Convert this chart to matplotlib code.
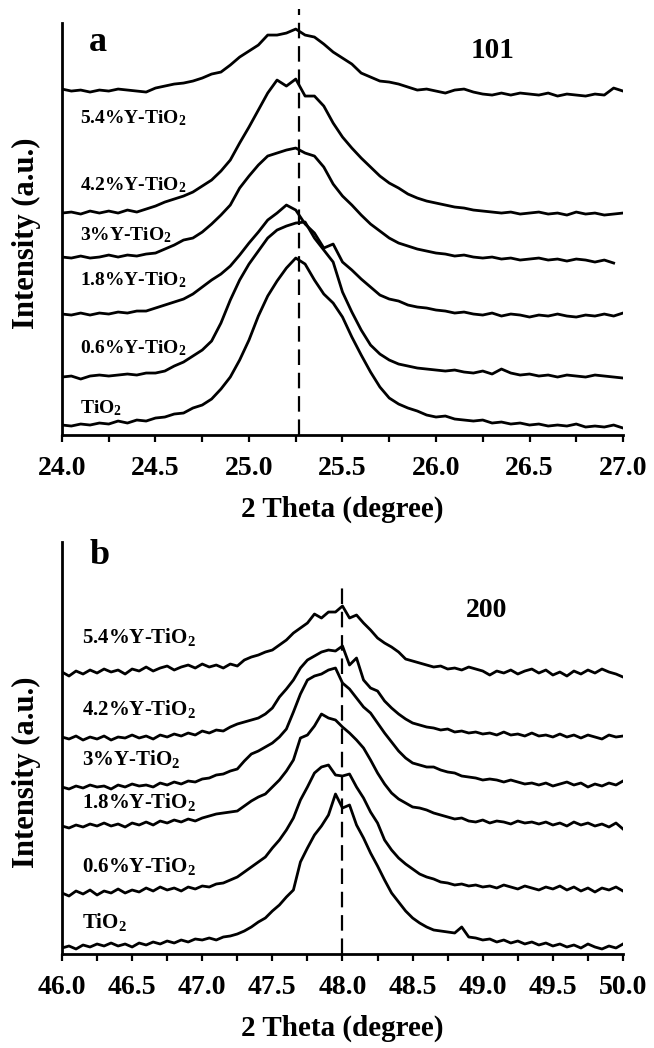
import numpy as np
import matplotlib
matplotlib.use("Agg")
import matplotlib.pyplot as plt
from matplotlib.ticker import MultipleLocator, FormatStrFormatter

plt.rcParams['font.family'] = ['Liberation Serif', 'DejaVu Serif']
plt.rcParams['font.weight'] = 'bold'
plt.rcParams['mathtext.fontset'] = 'custom'
plt.rcParams['mathtext.rm'] = 'Liberation Serif:bold'
plt.rcParams['mathtext.it'] = 'Liberation Serif:bold'
plt.rcParams['mathtext.bf'] = 'Liberation Serif:bold'

# 2 theta grids (step 0.05 deg)
theta_a = np.linspace(24.0, 27.0, 61)
theta_b = np.linspace(46.0, 50.0, 81)

samples = ['5.4%Y-TiO$_\\mathrm{2}$', '4.2%Y-TiO$_\\mathrm{2}$', '3%Y-TiO$_\\mathrm{2}$',
           '1.8%Y-TiO$_\\mathrm{2}$', '0.6%Y-TiO$_\\mathrm{2}$', 'TiO$_\\mathrm{2}$']

# (101) peak, stacked intensities (a.u.)
a_54 = [346, 344, 345, 343, 345, 344, 346, 345, 344, 343,
        347, 349, 351, 352, 354, 357, 361, 363, 370, 378,
        384, 390, 400, 400, 402, 406, 400, 398, 391, 383,
        377, 371, 362, 358, 354, 353, 351, 348, 345, 346,
        344, 342, 345, 346, 343, 341, 340, 342, 340, 342,
        341, 340, 342, 339, 341, 340, 339, 341, 340, 347,
        344]
a_42 = [222, 223, 221, 224, 222, 224, 222, 225, 223, 226,
        229, 233, 236, 239, 243, 249, 255, 264, 275, 292,
        308, 325, 342, 355, 349, 356, 339, 339, 329, 312,
        298, 287, 277, 268, 259, 252, 247, 241, 237, 234,
        232, 230, 228, 227, 225, 224, 223, 222, 223, 221,
        222, 223, 221, 222, 220, 223, 221, 222, 220, 221,
        222]
a_30 = [178, 177, 179, 177, 178, 180, 178, 180, 179, 181,
        182, 186, 190, 195, 197, 203, 211, 220, 230, 247,
        259, 270, 279, 282, 285, 287, 282, 279, 268, 251,
        239, 230, 220, 211, 204, 197, 192, 189, 186, 184,
        182, 181, 179, 180, 178, 177, 178, 176, 177, 175,
        176, 177, 175, 176, 174, 176, 175, 173, 175, 172]
a_18 = [121, 120, 122, 120, 122, 121, 123, 122, 124, 124,
        127, 130, 133, 136, 141, 148, 155, 161, 169, 180,
        192, 203, 215, 222, 230, 225, 211, 202, 187, 191,
        173, 165, 156, 148, 140, 136, 134, 130, 128, 127,
        125, 124, 122, 123, 121, 120, 122, 119, 121, 120,
        118, 120, 119, 121, 119, 118, 120, 119, 121, 119,
        122]
a_06 = [58, 59, 56, 59, 60, 59, 60, 61, 60, 62,
        62, 64, 69, 73, 79, 85, 94, 112, 135, 155,
        171, 184, 197, 205, 209, 212, 213, 197, 185, 173,
        143, 123, 105, 90, 81, 75, 71, 69, 67, 66,
        65, 64, 65, 63, 62, 64, 61, 66, 62, 60,
        61, 59, 60, 58, 60, 59, 58, 60, 59, 58,
        57]
a_ti = [10, 9, 11, 10, 12, 11, 14, 12, 15, 14,
        17, 18, 21, 22, 27, 30, 36, 46, 58, 75,
        95, 119, 139, 154, 167, 177, 171, 155, 141, 132,
        118, 98, 80, 63, 48, 37, 31, 27, 24, 20,
        18, 19, 16, 15, 14, 15, 12, 13, 11, 12,
        10, 11, 9, 10, 9, 11, 8, 9, 8, 10,
        7]

# (200) peak, stacked intensities (a.u.)
b_54 = [282, 278, 283, 280, 284, 281, 285, 282, 284, 280,
        285, 283, 287, 283, 286, 288, 284, 287, 289, 286,
        290, 287, 289, 286, 290, 288, 294, 297, 299, 302,
        304, 309, 314, 321, 326, 331, 340, 336, 342, 342,
        348, 336, 339, 331, 324, 316, 311, 307, 302, 295,
        293, 291, 289, 287, 288, 285, 286, 284, 287, 285,
        283, 279, 283, 281, 284, 280, 283, 285, 281, 284,
        279, 282, 278, 283, 280, 284, 281, 285, 282, 280,
        277]
b_42 = [217, 215, 218, 214, 217, 215, 218, 214, 217, 216,
        219, 216, 218, 215, 219, 217, 220, 218, 221, 219,
        223, 221, 224, 223, 227, 230, 232, 234, 236, 240,
        246, 257, 265, 274, 286, 294, 298, 302, 304, 303,
        308, 289, 296, 274, 266, 263, 253, 246, 240, 235,
        231, 229, 227, 226, 224, 225, 222, 223, 221, 222,
        220, 221, 219, 222, 219, 220, 218, 221, 218, 219,
        217, 220, 217, 219, 216, 219, 217, 215, 219, 217,
        218]
b_30 = [167, 165, 168, 166, 169, 167, 168, 165, 169, 167,
        170, 168, 169, 167, 171, 169, 172, 170, 173, 172,
        175, 176, 179, 180, 183, 185, 193, 200, 203, 207,
        211, 217, 225, 242, 260, 274, 278, 280, 284, 286,
        271, 265, 256, 247, 241, 231, 221, 212, 203, 196,
        191, 189, 187, 187, 184, 182, 181, 178, 177, 176,
        174, 175, 174, 172, 174, 172, 170, 171, 169, 171,
        168, 170, 172, 169, 171, 167, 170, 168, 171, 169,
        173]
b_18 = [128, 126, 129, 127, 130, 128, 131, 128, 130, 127,
        131, 129, 132, 129, 133, 131, 134, 132, 135, 133,
        136, 138, 140, 141, 142, 143, 148, 153, 157, 160,
        167, 174, 183, 194, 216, 219, 228, 240, 236, 234,
        227, 221, 214, 206, 194, 181, 170, 161, 155, 151,
        147, 146, 144, 141, 139, 137, 135, 136, 133, 132,
        134, 131, 133, 132, 130, 133, 131, 132, 130, 132,
        129, 131, 128, 132, 129, 131, 128, 130, 127, 131,
        125]
b_06 = [61, 58, 63, 60, 64, 59, 63, 61, 65, 61,
        64, 62, 66, 63, 67, 64, 66, 63, 67, 65,
        68, 67, 70, 71, 74, 77, 82, 87, 92, 97,
        106, 114, 124, 136, 154, 167, 181, 187, 189, 179,
        178, 180, 167, 156, 142, 131, 114, 104, 96, 90,
        85, 80, 77, 75, 72, 71, 69, 70, 68, 69,
        67, 68, 66, 69, 67, 65, 68, 66, 64, 67,
        65, 68, 64, 67, 63, 66, 62, 66, 64, 67,
        63]
b_ti = [6, 8, 5, 9, 7, 10, 8, 11, 8, 10,
        7, 11, 9, 12, 10, 13, 11, 14, 12, 15,
        14, 16, 14, 17, 18, 20, 23, 27, 32, 36,
        43, 49, 57, 64, 92, 106, 119, 128, 139, 160,
        146, 149, 129, 116, 101, 88, 74, 61, 52, 43,
        36, 31, 27, 24, 23, 22, 21, 27, 17, 16,
        14, 15, 12, 14, 11, 13, 10, 12, 9, 11,
        8, 10, 7, 9, 6, 10, 7, 5, 8, 6,
        10]

curves_a = [a_54, a_42, a_30, a_18, a_06, a_ti]
curves_b = [b_54, b_42, b_30, b_18, b_06, b_ti]
label_y_a = [312, 245, 195, 150, 82, 22]
label_y_b = [311, 239, 189, 146, 82, 26]

fig = plt.figure(figsize=(6.54, 10.48), dpi=100)
ax1 = fig.add_axes([0.0948, 0.5849, 0.8578, 0.3931])
ax2 = fig.add_axes([0.0948, 0.0897, 0.8578, 0.3931])


def style_axis(ax, lo, hi, ylab_y):
    ax.set_xlim(lo, hi)
    ax.set_ylim(0, 412)
    for s in ['top', 'right']:
        ax.spines[s].set_visible(False)
    for s in ['left', 'bottom']:
        ax.spines[s].set_linewidth(2.0)
    ax.set_yticks([])
    ax.xaxis.set_major_locator(MultipleLocator(0.5))
    ax.xaxis.set_minor_locator(MultipleLocator(0.25))
    ax.xaxis.set_major_formatter(FormatStrFormatter('%.1f'))
    ax.tick_params(axis='x', which='both', direction='out', length=5, width=1.6,
                   labelsize=20, pad=10)
    ax.set_xlabel('2 Theta (degree)', fontsize=21, fontweight='bold', labelpad=11)
    ax.set_ylabel('Intensity (a.u.)', fontsize=22, fontweight='bold')
    ax.yaxis.set_label_coords(-0.037, ylab_y)


style_axis(ax1, 24.0, 27.0, 0.49)
style_axis(ax2, 46.0, 50.0, 0.44)

for vals in curves_a:
    ax1.plot(theta_a[:len(vals)], vals, color='black', lw=2.0)
for vals in curves_b:
    ax2.plot(theta_b[:len(vals)], vals, color='black', lw=2.0)

for name, yy in zip(samples, label_y_a):
    ax1.text(24.096, yy, name, fontsize=14, fontweight='bold', va='baseline')
for name, yy in zip(samples, label_y_b):
    ax2.text(46.14, yy, name, fontsize=15, fontweight='bold', va='baseline')

ax1.plot([25.27, 25.27], [0, 426], color='black', lw=1.6, dashes=(7, 3.5), clip_on=False)
ax2.plot([48.0, 48.0], [0, 371], color='black', lw=1.6, dashes=(7, 3.5), clip_on=False)

ax1.text(24.19, 393, 'a', fontsize=26, fontweight='bold', ha='center', va='center')
ax1.text(26.30, 385, '101', fontsize=21, fontweight='bold', ha='center', va='center')
ax2.text(46.27, 399, 'b', fontsize=26, fontweight='bold', ha='center', va='center')
ax2.text(49.03, 344, '200', fontsize=20, fontweight='bold', ha='center', va='center')

fig.savefig('out.png', dpi=100)
